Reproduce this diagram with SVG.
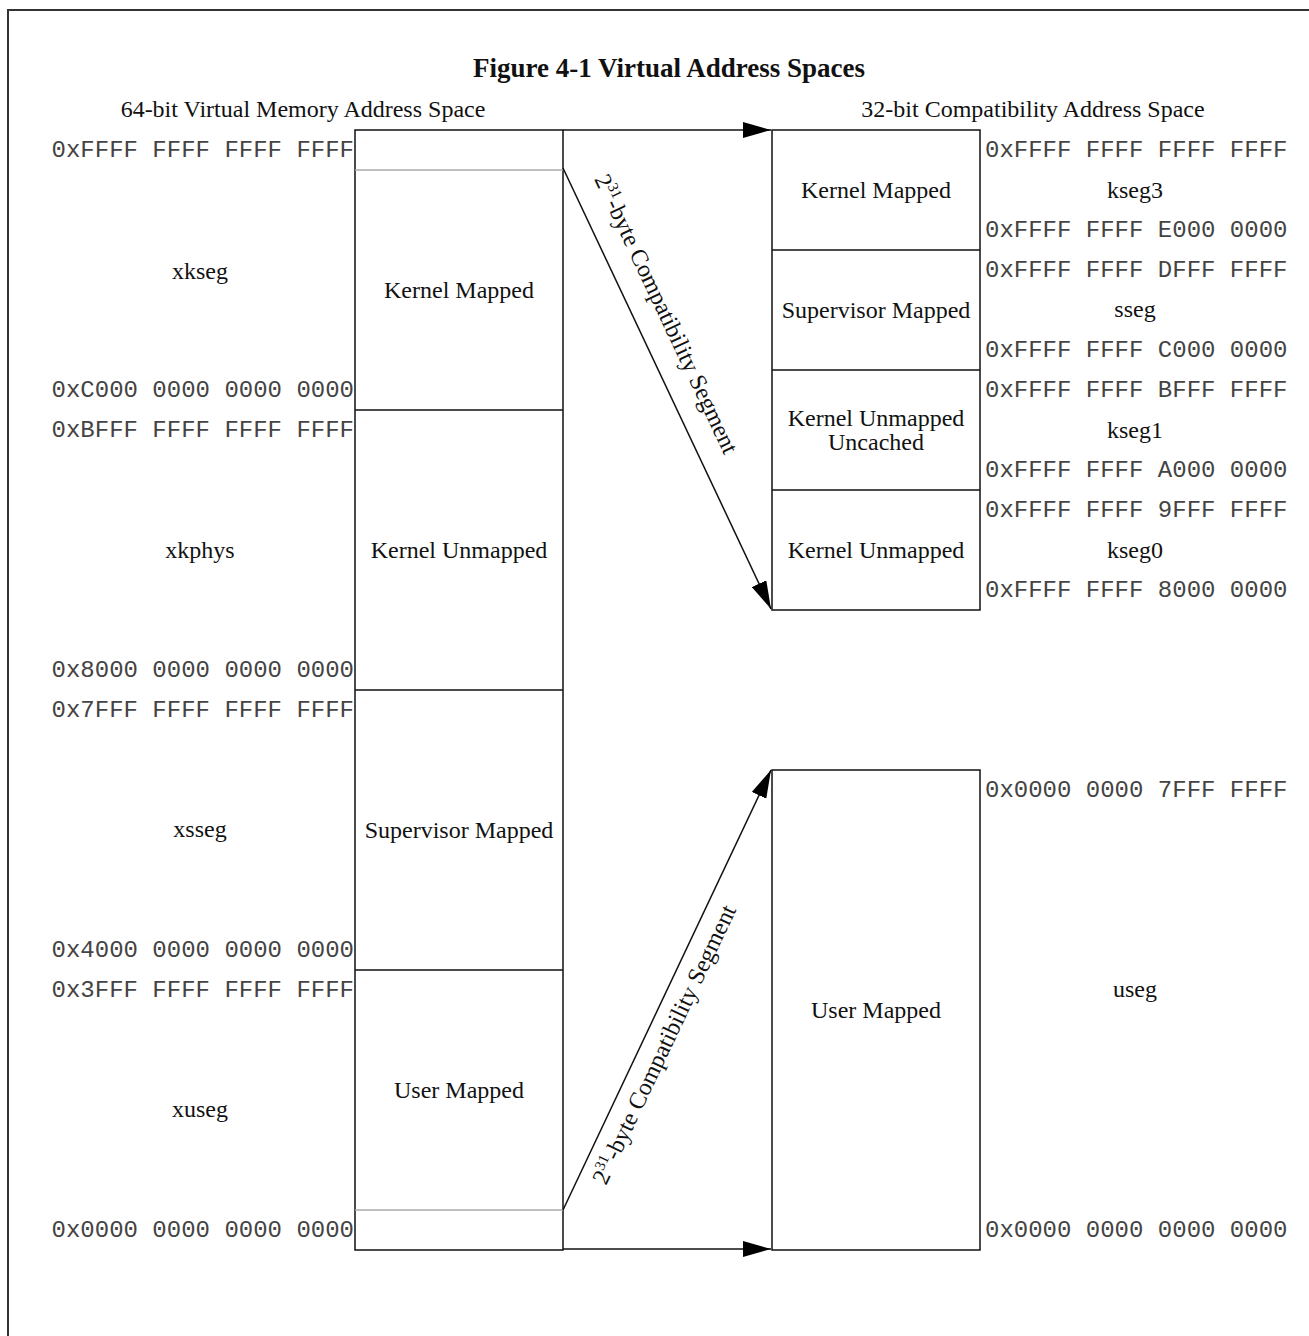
<svg xmlns="http://www.w3.org/2000/svg" width="1309" height="1336" viewBox="0 0 1309 1336">
<defs>
<marker id="arr" markerUnits="userSpaceOnUse" markerWidth="28" markerHeight="16" refX="28" refY="8" orient="auto">
<path d="M0,0 L28,8 L0,16 Z" fill="#000"/>
</marker>
<style>
.box{fill:#fff;stroke:#111;stroke-width:1.5}
.div{stroke:#111;stroke-width:1.5}
.gray{stroke:#aaa;stroke-width:1.5}
.conn{stroke:#111;stroke-width:1.5;fill:none}
.serif{font-family:"Liberation Serif","Times New Roman",serif;font-size:24px;fill:#111}
.head{font-family:"Liberation Serif","Times New Roman",serif;font-size:24px;fill:#111}
.title{font-family:"Liberation Serif","Times New Roman",serif;font-size:27px;font-weight:bold;fill:#111}
.mono{font-family:"Liberation Mono","Courier New",monospace;font-size:24px;fill:#444}
.c{text-anchor:middle}
.e{text-anchor:end}
</style>
</defs>
<rect width="1309" height="1336" fill="#fff"/>
<rect x="8" y="10" width="1320" height="1340" fill="none" stroke="#333" stroke-width="2"/>

<g id="headings">
<text class="title c" x="669" y="77">Figure 4-1 Virtual Address Spaces</text>
<text class="head c" x="303" y="117">64-bit Virtual Memory Address Space</text>
<text class="head c" x="1033" y="117">32-bit Compatibility Address Space</text>
</g>

<g id="left-space">
<rect class="box" x="355" y="130" width="208" height="1120"/>
<line class="gray" x1="355" y1="170" x2="563" y2="170"/>
<line class="gray" x1="355" y1="1210" x2="563" y2="1210"/>
<line class="div" x1="355" y1="410" x2="563" y2="410"/>
<line class="div" x1="355" y1="690" x2="563" y2="690"/>
<line class="div" x1="355" y1="970" x2="563" y2="970"/>
</g>

<g id="left-kernel-mapped"><text class="serif c" x="459" y="298">Kernel Mapped</text></g>
<g id="left-kernel-unmapped"><text class="serif c" x="459" y="558">Kernel Unmapped</text></g>
<g id="left-supervisor-mapped"><text class="serif c" x="459" y="838">Supervisor Mapped</text></g>
<g id="left-user-mapped"><text class="serif c" x="459" y="1098">User Mapped</text></g>

<g id="left-labels">
<text class="serif c" x="200" y="279">xkseg</text>
<text class="serif c" x="200" y="558">xkphys</text>
<text class="serif c" x="200" y="837">xsseg</text>
<text class="serif c" x="200" y="1117">xuseg</text>
<text class="mono e" x="354" y="157" xml:space="preserve">0xFFFF FFFF FFFF FFFF</text>
<text class="mono e" x="354" y="397" xml:space="preserve">0xC000 0000 0000 0000</text>
<text class="mono e" x="354" y="437" xml:space="preserve">0xBFFF FFFF FFFF FFFF</text>
<text class="mono e" x="354" y="677" xml:space="preserve">0x8000 0000 0000 0000</text>
<text class="mono e" x="354" y="717" xml:space="preserve">0x7FFF FFFF FFFF FFFF</text>
<text class="mono e" x="354" y="957" xml:space="preserve">0x4000 0000 0000 0000</text>
<text class="mono e" x="354" y="997" xml:space="preserve">0x3FFF FFFF FFFF FFFF</text>
<text class="mono e" x="354" y="1237" xml:space="preserve">0x0000 0000 0000 0000</text>
</g>

<g id="right-kernel-space">
<rect class="box" x="772" y="130" width="208" height="480"/>
<line class="div" x1="772" y1="250" x2="980" y2="250"/>
<line class="div" x1="772" y1="370" x2="980" y2="370"/>
<line class="div" x1="772" y1="490" x2="980" y2="490"/>
</g>
<g id="right-kernel-mapped"><text class="serif c" x="876" y="198">Kernel Mapped</text></g>
<g id="right-supervisor-mapped"><text class="serif c" x="876" y="318">Supervisor Mapped</text></g>
<g id="right-kernel-unmapped-uncached"><text class="serif c" x="876" y="426">Kernel Unmapped</text><text class="serif c" x="876" y="450">Uncached</text></g>
<g id="right-kernel-unmapped"><text class="serif c" x="876" y="558">Kernel Unmapped</text></g>

<g id="right-user-space">
<rect class="box" x="772" y="770" width="208" height="480"/>
<text class="serif c" x="876" y="1018">User Mapped</text>
</g>

<g id="right-labels">
<text class="mono" x="985" y="157" xml:space="preserve">0xFFFF FFFF FFFF FFFF</text>
<text class="serif c" x="1135" y="198">kseg3</text>
<text class="mono" x="985" y="237" xml:space="preserve">0xFFFF FFFF E000 0000</text>
<text class="mono" x="985" y="277" xml:space="preserve">0xFFFF FFFF DFFF FFFF</text>
<text class="serif c" x="1135" y="317">sseg</text>
<text class="mono" x="985" y="357" xml:space="preserve">0xFFFF FFFF C000 0000</text>
<text class="mono" x="985" y="397" xml:space="preserve">0xFFFF FFFF BFFF FFFF</text>
<text class="serif c" x="1135" y="438">kseg1</text>
<text class="mono" x="985" y="477" xml:space="preserve">0xFFFF FFFF A000 0000</text>
<text class="mono" x="985" y="517" xml:space="preserve">0xFFFF FFFF 9FFF FFFF</text>
<text class="serif c" x="1135" y="558">kseg0</text>
<text class="mono" x="985" y="597" xml:space="preserve">0xFFFF FFFF 8000 0000</text>
<text class="mono" x="985" y="797" xml:space="preserve">0x0000 0000 7FFF FFFF</text>
<text class="serif c" x="1135" y="997">useg</text>
<text class="mono" x="985" y="1237" xml:space="preserve">0x0000 0000 0000 0000</text>
</g>

<g id="connectors">
<line class="conn" x1="563" y1="130" x2="771" y2="130" marker-end="url(#arr)"/>
<line class="conn" x1="563" y1="168" x2="771" y2="609" marker-end="url(#arr)"/>
<line class="conn" x1="563" y1="1210" x2="771" y2="770" marker-end="url(#arr)"/>
<line class="conn" x1="563" y1="1249" x2="771" y2="1249" marker-end="url(#arr)"/>
<text class="head" transform="translate(594,179) rotate(64.75)">2<tspan font-size="15" dy="-9">31</tspan><tspan dy="9">-byte Compatibility Segment</tspan></text>
<text class="head" transform="translate(606,1186) rotate(-64.7)">2<tspan font-size="15" dy="-9">31</tspan><tspan dy="9">-byte Compatibility Segment</tspan></text>
</g>
</svg>
